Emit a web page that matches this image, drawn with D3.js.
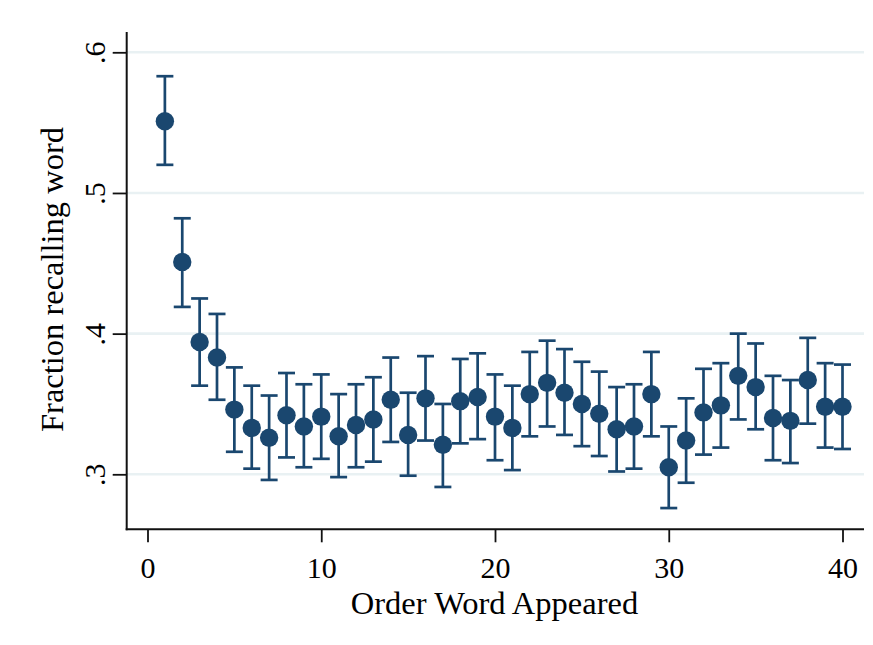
<!DOCTYPE html>
<html>
<head>
<meta charset="utf-8">
<script src="https://cdn.jsdelivr.net/npm/d3@7"></script>
<style>
  html, body { margin: 0; padding: 0; background: #fff; }
  svg { display: block; }
  text { font-family: "Liberation Serif", "Times New Roman", serif; fill: #000; }
</style>
</head>
<body>
<svg id="chart" width="873" height="645"></svg>
<script>
// Data
const order = [1,2,3,4,5,6,7,8,9,10,11,12,13,14,15,16,17,18,19,20,
               21,22,23,24,25,26,27,28,29,30,31,32,33,34,35,36,37,38,39,40];
const fraction = [0.551,0.451,0.394,0.383,0.346,0.333,0.326,0.342,0.334,0.341,
                  0.327,0.335,0.339,0.353,0.328,0.354,0.321,0.352,0.355,0.341,
                  0.333,0.357,0.365,0.358,0.350,0.343,0.332,0.334,0.357,0.305,
                  0.324,0.344,0.349,0.370,0.362,0.340,0.338,0.367,0.348,0.348];
const upper = [0.583,0.482,0.425,0.414,0.376,0.363,0.356,0.372,0.364,0.371,
               0.357,0.364,0.369,0.383,0.358,0.384,0.350,0.382,0.386,0.371,
               0.363,0.387,0.395,0.389,0.380,0.373,0.362,0.364,0.387,0.334,
               0.354,0.375,0.379,0.400,0.393,0.370,0.367,0.397,0.379,0.378];
const lower = [0.520,0.419,0.363,0.353,0.316,0.304,0.296,0.312,0.305,0.311,
               0.298,0.305,0.309,0.323,0.299,0.324,0.291,0.322,0.325,0.310,
               0.303,0.327,0.334,0.328,0.320,0.313,0.302,0.304,0.327,0.276,
               0.294,0.314,0.319,0.339,0.332,0.310,0.308,0.336,0.319,0.318];
const xTicks = [0, 10, 20, 30, 40];
const yTicks = [0.3, 0.4, 0.5, 0.6];
const yTickLabels = [".3", ".4", ".5", ".6"];
const xTitle = "Order Word Appeared";
const yTitle = "Fraction recalling word";

const data = order.map((o, i) => ({ x: o, y: fraction[i], hi: upper[i], lo: lower[i] }));

const svg = d3.select("#chart");
const plotLeft = 126.7, plotRight = 864, plotTop = 32, plotBottom = 529.3;
const navy = "#1a476f";

const x = d3.scaleLinear().domain([0, 40]).range([147.5, 842.5]);
const y = d3.scaleLinear().domain([0.3, 0.6]).range([474.3, 52.3]);

// gridlines
svg.append("g").selectAll("line").data(yTicks).join("line")
  .attr("x1", plotLeft).attr("x2", plotRight)
  .attr("y1", d => y(d)).attr("y2", d => y(d))
  .attr("stroke", "#e9f1f3").attr("stroke-width", 2.6);

// y axis
const yAxis = d3.axisLeft(y).tickValues(yTicks).tickSize(14).tickPadding(8)
  .tickFormat((d, i) => yTickLabels[i]);
const gy = svg.append("g").attr("transform", `translate(${plotLeft},0)`).call(yAxis);
gy.select(".domain").remove();
gy.selectAll(".tick line").attr("stroke", "#111").attr("stroke-width", 1.8);
gy.selectAll(".tick text")
  .attr("x", null).attr("dy", null)
  .attr("transform", "translate(-22,0) rotate(-90)")
  .attr("text-anchor", "middle")
  .style("font-size", "30px")
  .style("font-family", "'Liberation Serif', 'Times New Roman', serif");

// x axis
const xAxis = d3.axisBottom(x).tickValues(xTicks).tickSize(13).tickPadding(0)
  .tickFormat(d3.format("d"));
const gx = svg.append("g").attr("transform", `translate(0,${plotBottom})`).call(xAxis);
gx.select(".domain").remove();
gx.selectAll(".tick line").attr("stroke", "#111").attr("stroke-width", 1.8);
gx.selectAll(".tick text")
  .attr("y", 49).attr("dy", null)
  .style("font-size", "30px")
  .style("font-family", "'Liberation Serif', 'Times New Roman', serif");

// axis lines
svg.append("line").attr("x1", plotLeft).attr("x2", plotLeft)
  .attr("y1", plotTop).attr("y2", plotBottom + 1)
  .attr("stroke", "#111").attr("stroke-width", 2);
svg.append("line").attr("x1", plotLeft - 1).attr("x2", plotRight)
  .attr("y1", plotBottom).attr("y2", plotBottom)
  .attr("stroke", "#111").attr("stroke-width", 2);

// error bars
const capHalf = 8.5;
const eb = svg.append("g").attr("stroke", navy).attr("stroke-width", 2.7).attr("fill", "none");
eb.selectAll("line.v").data(data).join("line").attr("class", "v")
  .attr("x1", d => x(d.x)).attr("x2", d => x(d.x))
  .attr("y1", d => y(d.hi)).attr("y2", d => y(d.lo));
eb.selectAll("line.t").data(data).join("line").attr("class", "t")
  .attr("x1", d => x(d.x) - capHalf).attr("x2", d => x(d.x) + capHalf)
  .attr("y1", d => y(d.hi)).attr("y2", d => y(d.hi));
eb.selectAll("line.b").data(data).join("line").attr("class", "b")
  .attr("x1", d => x(d.x) - capHalf).attr("x2", d => x(d.x) + capHalf)
  .attr("y1", d => y(d.lo)).attr("y2", d => y(d.lo));

// markers
svg.append("g").selectAll("circle").data(data).join("circle")
  .attr("cx", d => x(d.x)).attr("cy", d => y(d.y)).attr("r", 9.2)
  .attr("fill", navy);

// titles
svg.append("text").attr("x", 494.5).attr("y", 614)
  .attr("text-anchor", "middle").style("font-size", "32.5px").text(xTitle);
svg.append("text")
  .attr("transform", `translate(63,${(127 + 432) / 2}) rotate(-90)`)
  .attr("text-anchor", "middle").style("font-size", "32.5px").text(yTitle);
</script>
</body>
</html>
